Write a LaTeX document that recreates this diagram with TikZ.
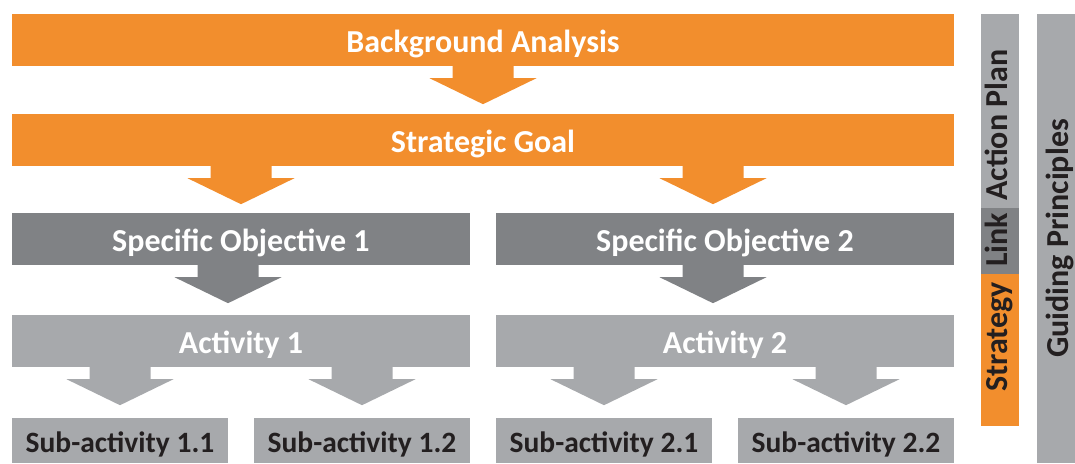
\documentclass[tikz,border=0pt]{standalone}
\usepackage{fontspec}
\setmainfont{Carlito}
\usetikzlibrary{shapes,arrows,calc}
\definecolor{goalorange}{RGB}{242,142,45}
\definecolor{darkgrey}{RGB}{128,130,133}
\definecolor{lightgrey}{RGB}{167,169,172}
\definecolor{inkgrey}{RGB}{35,31,32}
\newcommand{\fatarrow}[4][0]{%
  \fill[#2] ($(#4.north |- #3.south)+(#1,0)$) ++(-30.5,0) -- ++(0,-12)
    -- ++(-23,0) -- ++(53.5,-26) -- ++(53.5,26) -- ++(-23,0) -- ++(0,12) -- cycle;}

\begin{document}
\begin{tikzpicture}[x=1pt, y=1pt, font=\bfseries\fontsize{32}{32}\selectfont]
\tikzset{every node/.style={rectangle, inner sep=0pt,
                            text height=24pt, text depth=0pt,
                            minimum height=52pt},
         subbox/.style={fill=lightgrey, text=inkgrey, minimum width=216pt,
                        minimum height=45pt,
                        font=\bfseries\fontsize{29.5}{29.5}\selectfont},
         sidelabel/.style={rotate=90, text=inkgrey, minimum height=0pt}}
\useasboundingbox (0,0) rectangle (1075,-463);

\node(background) [fill=goalorange, text=white, minimum width=942pt]
  at (483,-40) {Background Analysis};

\node(goal) [below of=background, node distance=100pt,
             fill=goalorange, text=white, minimum width=942pt]
  {Strategic Goal};

\node(objective1) [fill=darkgrey, text=white, minimum width=458pt]
  at (241,-239) {Specific Objective 1};

\node(objective2) [right of=objective1, node distance=484pt,
                   fill=darkgrey, text=white, minimum width=458pt]
  {Specific Objective 2};

\node(activity1) [below of=objective1, node distance=102pt,
                  fill=lightgrey, text=white, minimum width=458pt]
  {Activity 1};

\node(activity2) [right of=activity1, node distance=484pt,
                  fill=lightgrey, text=white, minimum width=458pt]
  {Activity 2};

\node(sub11) [subbox] at (120,-440.5) {Sub-activity 1.1};

\node(sub12) [right of=sub11, node distance=242pt, subbox] {Sub-activity 1.2};

\node(sub21) [right of=sub12, node distance=242pt, subbox] {Sub-activity 2.1};

\node(sub22) [right of=sub21, node distance=242pt, subbox] {Sub-activity 2.2};

\node(actionplan) [fill=lightgrey, minimum width=38pt, minimum height=194pt]
  at (1000,-111) {};

\node(link) [below of=actionplan, node distance=130pt,
             fill=darkgrey, minimum width=38pt, minimum height=66pt] {};

\node(strategy) [below of=link, node distance=109pt,
                 fill=goalorange, minimum width=38pt, minimum height=152pt] {};

\node(strategylabel) [sidelabel] at (995,-337) {Strategy};
\node(linklabel) [sidelabel] at (995,-240) {Link};
\node(actionlabel) [sidelabel] at (995,-125) {Action Plan};

\node(principles) [rotate=90, fill=lightgrey, text=inkgrey,
                   minimum width=449pt, minimum height=38pt]
  at (1056,-238.5) {Guiding Principles};

\fatarrow{goalorange}{background}{goal}
\fatarrow{goalorange}{goal}{objective1}
\fatarrow[-12]{goalorange}{goal}{objective2}
\fatarrow[-13]{darkgrey}{objective1}{activity1}
\fatarrow[-12]{darkgrey}{objective2}{activity2}
\fatarrow{lightgrey}{activity1}{sub11}
\fatarrow{lightgrey}{activity1}{sub12}
\fatarrow{lightgrey}{activity2}{sub21}
\fatarrow{lightgrey}{activity2}{sub22}

\end{tikzpicture}
\end{document}
